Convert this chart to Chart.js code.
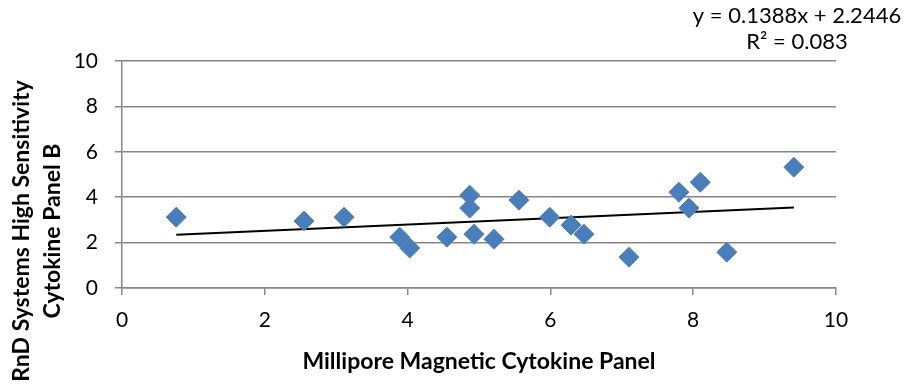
<!DOCTYPE html>
<html>
<head>
<meta charset="utf-8">
<script src="https://cdn.jsdelivr.net/npm/chart.js@4"></script>
<style>
  html, body { margin: 0; padding: 0; background: #fff; }
  #wrap { width: 909px; height: 387px; }
</style>
</head>
<body>
<div id="wrap"><canvas id="chart"></canvas></div>
<script>
// Millipore (x) vs RnD Systems (y)
const millipore = [0.76, 2.55, 3.11, 3.89, 4.03, 4.55, 4.87, 4.87, 4.93, 5.21, 5.56, 5.99, 6.29, 6.47, 7.10, 7.80, 8.10, 7.94, 8.47, 9.41];
const rndSystems = [3.12, 2.95, 3.12, 2.24, 1.76, 2.24, 4.09, 3.52, 2.37, 2.15, 3.87, 3.12, 2.77, 2.37, 1.36, 4.22, 4.66, 3.52, 1.58, 5.32];

// trendline as shown on the chart
const slope = 0.1388;
const intercept = 2.2446;
const equationText = ['y = 0.1388x + 2.2446', 'R² = 0.083'];

const xTitle = 'Millipore Magnetic Cytokine Panel';
const yTitle = ['RnD Systems High Sensitivity', 'Cytokine Panel B'];

const points = millipore.map((x, i) => ({ x: x, y: rndSystems[i] }));
const xMin = Math.min(...millipore);
const xMax = Math.max(...millipore);
const trend = [
  { x: xMin, y: slope * xMin + intercept },
  { x: xMax, y: slope * xMax + intercept }
];

const FONT = 'Lato, "Open Sans", sans-serif';

// draws axis titles and the trendline label
const labelsPlugin = {
  id: 'labels',
  afterDraw(chart) {
    const ctx = chart.ctx;
    const area = chart.chartArea;
    ctx.save();
    ctx.fillStyle = '#000';
    ctx.textAlign = 'center';
    ctx.textBaseline = 'middle';

    ctx.font = 'bold 23px ' + FONT;
    ctx.fillText(xTitle, (area.left + area.right) / 2, 362);

    ctx.translate(0, 231);
    ctx.rotate(-Math.PI / 2);
    ctx.fillText(yTitle[0], 0, 22);
    ctx.fillText(yTitle[1], 0, 53);
    ctx.restore();

    ctx.save();
    ctx.fillStyle = '#000';
    ctx.textAlign = 'center';
    ctx.textBaseline = 'middle';
    ctx.font = '22px ' + FONT;
    ctx.fillText(equationText[0], 797, 16);
    ctx.fillText(equationText[1], 797, 42);
    ctx.restore();
  }
};

const ctx = document.getElementById('chart').getContext('2d');
new Chart(ctx, {
  type: 'scatter',
  data: {
    datasets: [{
      label: 'Data',
      data: points,
      pointStyle: 'rectRot',
      pointRadius: 10,
      pointHoverRadius: 10,
      backgroundColor: '#4A7EBB',
      borderColor: '#4A7EBB',
      borderWidth: 1
    }, {
      label: 'Trend',
      type: 'line',
      data: trend,
      borderColor: '#000',
      borderWidth: 2,
      pointRadius: 0,
      fill: false
    }]
  },
  options: {
    responsive: true,
    maintainAspectRatio: false,
    animation: false,
    layout: { padding: { top: 61, right: 73, left: 0, bottom: 0 } },
    plugins: {
      legend: { display: false },
      tooltip: { enabled: false }
    },
    scales: {
      x: {
        type: 'linear',
        min: 0,
        max: 10,
        afterFit: (s) => { s.height = 99; },
        border: { color: '#868686', width: 1.5 },
        grid: { drawOnChartArea: false, drawTicks: true, tickLength: 7, color: '#868686', lineWidth: 1.5 },
        ticks: { stepSize: 2, color: '#000', font: { family: FONT, size: 21 }, padding: 13, maxRotation: 0 }
      },
      y: {
        min: 0,
        max: 10,
        afterFit: (s) => { s.width = 122; },
        border: { color: '#868686', width: 1.5 },
        grid: { color: '#868686', lineWidth: 1.5, tickLength: 7 },
        ticks: { stepSize: 2, color: '#000', font: { family: FONT, size: 21 }, padding: 17 }
      }
    }
  },
  plugins: [labelsPlugin]
});
</script>
</body>
</html>
